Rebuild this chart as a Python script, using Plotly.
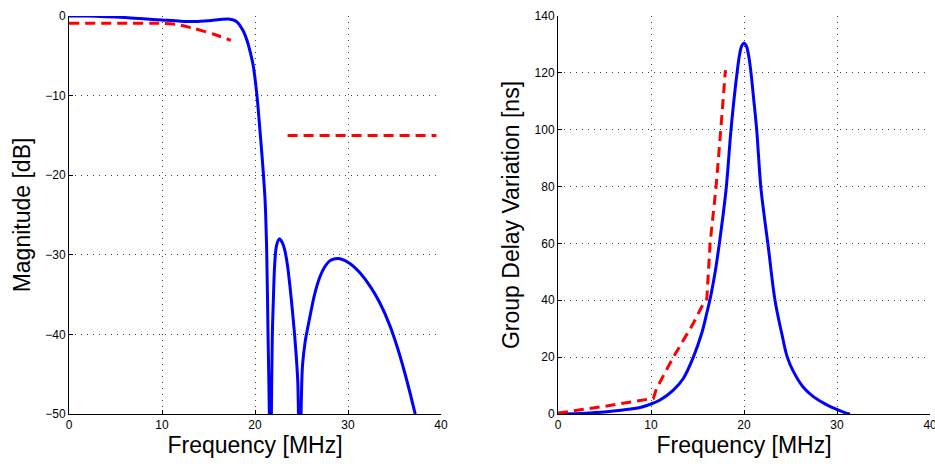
import plotly.graph_objects as go

# ---- Left panel: magnitude response ----
mag_f = [0, 2, 4, 6, 8, 10, 12, 13.5, 15, 16.5, 17.3, 17.8, 18.2, 18.6, 18.9, 19.2, 19.5,
         19.8, 20.2, 20.54, 20.8, 21.08, 21.26, 21.4, 21.54, 21.65, 21.76, 21.86, 21.97,
         22.1, 22.3, 22.6, 22.9, 23.2, 23.5, 23.76, 24.05, 24.3, 24.6, 24.8, 24.95, 25.1,
         25.38, 25.9, 26.4, 27.0, 27.5, 28.0, 28.6, 29.14, 30.2, 31.3, 32.4, 33.4, 34.5,
         35.4, 36.3, 37.2, 37.6]
mag_db = [0, 0, -0.08, -0.2, -0.35, -0.5, -0.65, -0.7, -0.6, -0.42, -0.4, -0.55, -0.9,
          -1.6, -2.3, -3.3, -4.6, -6.2, -9.9, -14.5, -18.3, -23.1, -29.8, -40, -50, -65,
          -50, -40, -35.7, -31.5, -28.9, -28.0, -28.4, -29.4, -31.4, -34, -37.4, -40.7,
          -46, -62, -50, -44, -41, -37.8, -35.0, -32.7, -31.5, -30.8, -30.5, -30.5,
          -31.1, -32.3, -34.0, -36.0, -38.9, -42.0, -45.7, -49.9, -52]
spec_pass_f = [0, 10, 11.6, 13.4, 15.5, 17.4]
spec_pass_db = [-0.92, -0.92, -1.05, -1.55, -2.26, -3.05]
spec_stop_f = [23.5, 39.5]
spec_stop_db = [-15, -15]

# ---- Right panel: group delay variation ----
gd_f = [0, 3, 5, 7, 8.82, 10, 10.97, 12.4, 13.47, 14.55, 15.45, 15.99, 16.45, 16.9,
        17.35, 17.75, 18.1, 18.6, 19.0, 19.25, 19.5, 19.75, 20, 20.25, 20.5, 20.75, 21.0,
        21.36, 21.8, 22.2, 22.6, 23.33, 24.05, 24.65, 25.3, 26.4, 27.45, 28.9, 30.3,
        31.1, 31.4]
gd_ns = [0, 0.3, 0.7, 1.4, 2.3, 3.5, 4.9, 8.4, 12.5, 20, 28.4, 35.4, 42, 50, 60, 70, 80,
         100, 113, 120, 126, 129.5, 130.5, 129.5, 126, 120, 112, 100, 80, 69, 59, 40,
         28.4, 20, 15, 9.3, 6.1, 3.2, 1.2, 0.2, 0]
gd_spec_f = [0, 5, 10.25, 10.6, 12.4, 13.47, 14.55, 15.45, 16.0, 16.35, 17, 17.5, 18]
gd_spec_ns = [0.3, 2.7, 5.5, 9, 20, 26, 31.9, 37.7, 40.5, 60, 80, 100, 121]

x_ticks = [0, 10, 20, 30, 40]
mag_ticks = [0, -10, -20, -30, -40, -50]
gd_ticks = [0, 20, 40, 60, 80, 100, 120, 140]

BLUE = "#0000ff"
RED = "#ff0000"
FONT = "Liberation Sans, Arial, sans-serif"
DASH = "10px,6px"

fig = go.Figure()
fig.add_trace(go.Scatter(x=mag_f, y=mag_db, mode="lines",
                         line=dict(color=BLUE, width=3, shape="spline", smoothing=0.8),
                         xaxis="x", yaxis="y"))
fig.add_trace(go.Scatter(x=spec_pass_f, y=spec_pass_db, mode="lines",
                         line=dict(color=RED, width=3, dash=DASH, shape="spline", smoothing=0.6),
                         xaxis="x", yaxis="y"))
fig.add_trace(go.Scatter(x=spec_stop_f, y=spec_stop_db, mode="lines",
                         line=dict(color=RED, width=3, dash=DASH), xaxis="x", yaxis="y"))
fig.add_trace(go.Scatter(x=gd_f, y=gd_ns, mode="lines",
                         line=dict(color=BLUE, width=3, shape="spline", smoothing=1.0),
                         xaxis="x2", yaxis="y2"))
fig.add_trace(go.Scatter(x=gd_spec_f, y=gd_spec_ns, mode="lines",
                         line=dict(color=RED, width=3, dash=DASH), xaxis="x2", yaxis="y2"))

common = dict(showgrid=True, gridcolor="#444", griddash="1px,5px", gridwidth=1,
              showline=True, linecolor="black", linewidth=1, ticks="inside",
              ticklen=4, tickcolor="black", zeroline=False, automargin=False,
              tickfont=dict(family=FONT, size=12, color="black"),
              title_font=dict(family=FONT, size=23, color="black"))

fig.update_layout(
    width=935, height=464, margin=dict(l=0, r=0, t=0, b=0, autoexpand=False),
    paper_bgcolor="white", plot_bgcolor="white", showlegend=False,
    xaxis=dict(domain=[0.0738, 0.4717], range=[0, 40], tickvals=x_ticks,
               title=dict(text="Frequency [MHz]", standoff=2), anchor="y", **common),
    yaxis=dict(domain=[0.1078, 0.9655], range=[-50, 0], tickvals=mag_ticks,
               title=dict(text="Magnitude [dB]", standoff=8), anchor="x", **common),
    xaxis2=dict(domain=[0.5968, 0.9947], range=[0, 40], tickvals=x_ticks,
                ticklabeloverflow="allow",
                title=dict(text="Frequency [MHz]", standoff=2), anchor="y2", **common),
    yaxis2=dict(domain=[0.1078, 0.9655], range=[0, 140], tickvals=gd_ticks,
                title=dict(text="Group Delay Variation [ns]", standoff=8), anchor="x2", **common),
)

fig.write_html("out.html")
